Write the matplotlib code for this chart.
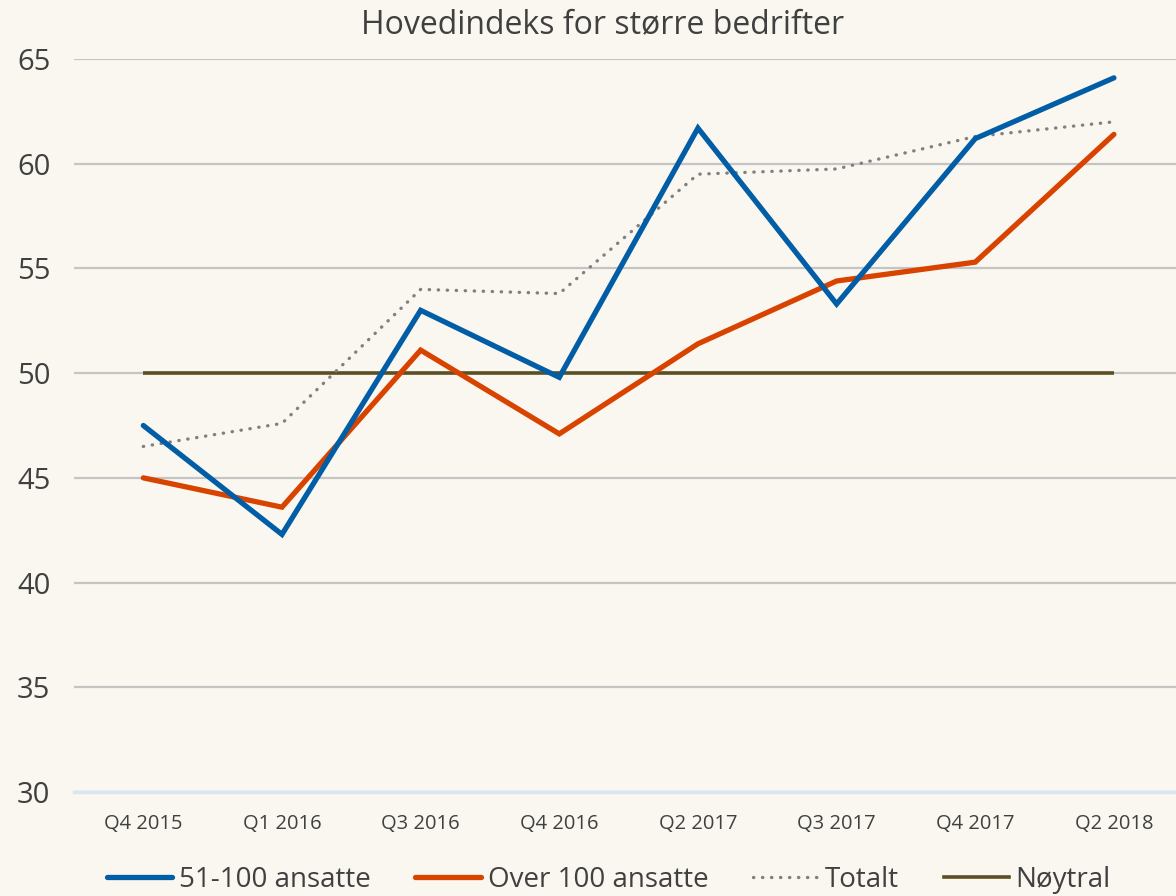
import matplotlib
matplotlib.use("Agg")
import matplotlib.pyplot as plt
from matplotlib.lines import Line2D

categories = ["Q4 2015", "Q1 2016", "Q3 2016", "Q4 2016", "Q2 2017", "Q3 2017", "Q4 2017", "Q2 2018"]
s_51_100 = [47.5, 42.3, 53.0, 49.8, 61.7, 53.3, 61.2, 64.1]
s_over100 = [45.0, 43.6, 51.1, 47.1, 51.4, 54.4, 55.3, 61.4]
s_totalt = [46.5, 47.6, 54.0, 53.8, 59.5, 59.75, 61.3, 62.0]
s_noytral = [50, 50, 50, 50, 50, 50, 50, 50]
yticks = [30, 35, 40, 45, 50, 55, 60, 65]

plt.rcParams['font.family'] = ['Open Sans', 'DejaVu Sans']
bg = '#FAF7F0'
W, H = 1176, 896
fig = plt.figure(figsize=(W / 100, H / 100), dpi=100, facecolor=bg)
left, right, top, bottom = 74, 1176, 59, 792
ax = fig.add_axes([left / W, 1 - bottom / H, (right - left) / W, (bottom - top) / H], facecolor=bg)

x = list(range(len(categories)))
ax.plot(x, s_noytral, color='#5C4F24', lw=2.6, solid_capstyle='butt', zorder=3, label='Nøytral')
ax.plot(x, s_totalt, color='#808080', lw=2.4, linestyle=(0, (0.1, 2.6)), dash_capstyle='round', zorder=4, label='Totalt')
ax.plot(x, s_over100, color='#D94300', lw=3.8, solid_capstyle='round', solid_joinstyle='miter', zorder=5, label='Over 100 ansatte')
ax.plot(x, s_51_100, color='#005DA6', lw=3.8, solid_capstyle='round', solid_joinstyle='miter', zorder=6, label='51-100 ansatte')

ax.set_ylim(30, 65)
ax.set_xlim(-0.5, (1176 - 143) / 138.7)
ax.set_yticks(yticks)
ax.set_xticks(x)
ax.set_xticklabels(categories)
ax.yaxis.grid(True, color='#C4C4C4', lw=1.6)
ax.set_axisbelow(True)
for sp in ['top', 'right', 'left']:
    ax.spines[sp].set_visible(False)
ax.spines['bottom'].set_color('#D6E6F5')
ax.spines['bottom'].set_linewidth(2.5)
ax.spines['bottom'].set_zorder(2)
ax.tick_params(axis='both', length=0, colors='#404040')
ax.tick_params(axis='y', labelsize=21, pad=17)
ax.tick_params(axis='x', labelsize=14.5, pad=16)

fig.text(603 / W, 1 - 25 / H, 'Hovedindeks for større bedrifter', ha='center', va='center',
         fontsize=23, color='#404040')

handles = [
    Line2D([], [], color='#005DA6', lw=3.8, solid_capstyle='round'),
    Line2D([], [], color='#D94300', lw=3.8, solid_capstyle='round'),
    Line2D([], [], color='#808080', lw=2.4, linestyle=(0, (0.1, 2.6)), dash_capstyle='round'),
    Line2D([], [], color='#5C4F24', lw=2.6),
]
labels = ['51-100 ansatte', 'Over 100 ansatte', 'Totalt', 'Nøytral']
leg = fig.legend(handles, labels, loc='center', bbox_to_anchor=(609 / W, 1 - 880 / H), ncol=4,
                 frameon=False, fontsize=20, handlelength=2.35, handletextpad=0.25, columnspacing=1.6,
                 labelcolor='#404040')

fig.savefig('out.png', dpi=100, facecolor=bg)
